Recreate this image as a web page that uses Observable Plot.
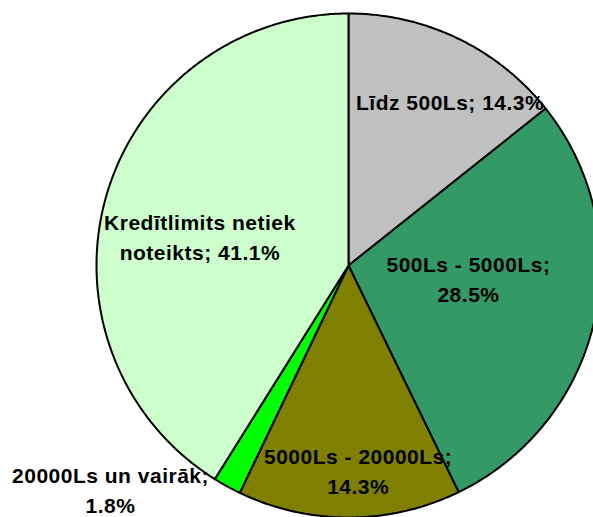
<!DOCTYPE html>
<html>
<head>
<meta charset="utf-8">
<script src="https://cdn.jsdelivr.net/npm/d3@7"></script>
<script src="https://cdn.jsdelivr.net/npm/@observablehq/plot@0.6"></script>
<style>
  html, body { margin: 0; padding: 0; background: #fff; }
  svg { display: block; }
  svg text { letter-spacing: 0.5px; }
</style>
</head>
<body>
<div id="chart"></div>
<script>
// Data
const categories = [
  "Līdz 500Ls",
  "500Ls - 5000Ls",
  "5000Ls - 20000Ls",
  "20000Ls un vairāk",
  "Kredītlimits netiek noteikts"
];
const values = [14.3, 28.5, 14.3, 1.8, 41.1];
const labelTexts = [
  "Līdz 500Ls; 14.3%",
  "500Ls - 5000Ls;\n28.5%",
  "5000Ls - 20000Ls;\n14.3%",
  "20000Ls un vairāk;\n1.8%",
  "Kredītlimits netiek\nnoteikts; 41.1%"
];
const colors = ["#C0C0C0", "#339966", "#808000", "#00FF00", "#CCFFCC"];

// Layout (label radius along mid-angle + pixel nudges)
const R = 252;
const labelLayout = [
  {r: 181, dx: 23, dy: -2},
  {r: 123, dx: 0, dy: -15},
  {r: 208, dx: 9, dy: -4},
  {r: 330, dx: -79, dy: -66},
  {r: 164, dx: 9, dy: 15}
];

const pie = d3.pie().sort(null).value(d => d)(values);

// polygons for each slice (angles clockwise from 12 o'clock)
const slices = pie.map((p, i) => {
  const pts = [{x: 0, y: 0}];
  const n = Math.max(2, Math.ceil((p.endAngle - p.startAngle) / (Math.PI / 360)));
  for (let k = 0; k <= n; k++) {
    const a = p.startAngle + (p.endAngle - p.startAngle) * k / n;
    pts.push({x: R * Math.sin(a), y: R * Math.cos(a)});
  }
  pts.push({x: 0, y: 0});
  return pts;
});

const labels = pie.map((p, i) => {
  const a = (p.startAngle + p.endAngle) / 2;
  const L = labelLayout[i];
  return {x: L.r * Math.sin(a), y: L.r * Math.cos(a), text: labelTexts[i], dx: L.dx, dy: L.dy};
});

const W = 593, H = 517, cx = 348, cy = 265;

const marks = slices.map((pts, i) =>
  Plot.line(pts, {x: "x", y: "y", fill: colors[i], stroke: "black", strokeWidth: 2, strokeLinejoin: "round", curve: "linear"})
);
labels.forEach(l => {
  marks.push(Plot.text([l], {
    x: "x", y: "y", text: "text", dx: l.dx, dy: l.dy,
    fontSize: 21, fontWeight: "bold", fill: "#000",
    fontFamily: "Liberation Sans, Arial, sans-serif",
    lineHeight: 1.43, textAnchor: "middle"
  }));
});

const chart = Plot.plot({
  width: W, height: H,
  margin: 0,
  x: {domain: [-cx, W - cx], axis: null},
  y: {domain: [-(H - cy), cy], axis: null},
  style: {background: "white", overflow: "hidden"},
  marks
});
document.getElementById("chart").appendChild(chart);
</script>
</body>
</html>
